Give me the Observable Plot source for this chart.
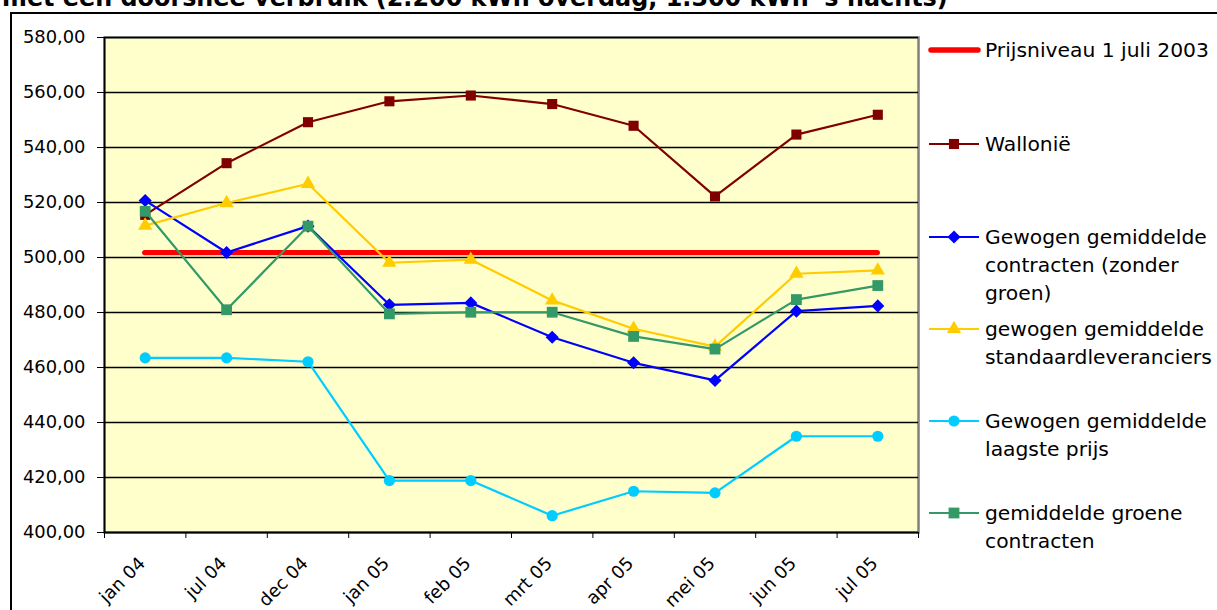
<!DOCTYPE html>
<html>
<head>
<meta charset="utf-8">
<script src="https://cdn.jsdelivr.net/npm/d3@7"></script>
<script src="https://cdn.jsdelivr.net/npm/@observablehq/plot@0.6"></script>
<style>
html, body { margin: 0; padding: 0; background: #fff; overflow: hidden; }
#page { position: relative; width: 1217px; height: 610px; overflow: hidden; font-family: "DejaVu Sans", sans-serif; color: #000; }
#title { position: absolute; left: 2px; top: -11px; font-weight: bold; white-space: nowrap; font-size: 22px; line-height: 22px; }
#frame { position: absolute; left: 10px; top: 12px; width: 1400px; height: 800px; border: 2.5px solid #000; }
#chart { position: absolute; left: 0; top: 0; }
.entry { position: absolute; left: 928px; height: 28px; }
.entry svg { position: absolute; left: 0; top: 0; }
.entry .lbl { position: absolute; left: 57px; top: 0; font-size: 20.3px; line-height: 28px; white-space: nowrap; }
</style>
</head>
<body>
<div id="page">
  <div id="frame"></div>
  <div id="title"></div>
  <div id="chart"></div>
  <div id="legend"></div>
</div>
<script>
// ---- data ----
const titleText = "met een doorsnee verbruik (2.200 kWh overdag, 1.300 kWh 's nachts)";
const months = ["jan 04", "jul 04", "dec 04", "jan 05", "feb 05", "mrt 05", "apr 05", "mei 05", "jun 05", "jul 05"];
const yTicks = [400, 420, 440, 460, 480, 500, 520, 540, 560, 580];
const prijsniveau2003 = 501.8;
const wallonie    = [515.5, 534.3, 549.2, 556.8, 558.9, 555.8, 547.9, 522.2, 544.7, 551.9];
const zonderGroen = [520.7, 501.8, 511.4, 482.8, 483.5, 471.0, 461.7, 455.3, 480.5, 482.4];
const standaard   = [511.6, 519.8, 526.8, 498.1, 499.2, 484.4, 474.1, 467.6, 494.1, 495.3];
const laagste     = [463.5, 463.5, 462.1, 418.9, 418.9, 406.1, 415.0, 414.4, 435.0, 435.0];
const groen       = [516.8, 481.0, 511.4, 479.5, 480.1, 480.1, 471.3, 466.7, 484.7, 489.8];

const prijsLabel = ["Prijsniveau 1 juli 2003"];
const seriesLabels = [
  ["Wallonië"],
  ["Gewogen gemiddelde", "contracten (zonder", "groen)"],
  ["gewogen gemiddelde", "standaardleveranciers"],
  ["Gewogen gemiddelde", "laagste prijs"],
  ["gemiddelde groene", "contracten"]
];
const colors  = ["#800000", "#0000FF", "#FFCC00", "#00CCFF", "#339966"];
const symbols = ["square", "diamond2", "triangle", "circle", "square"];
const radii   = [5.7, 5.9, 5.3, 5.6, 6.1];
const prijsColor = "#FF0000";
const legendCenters = [50, 144, 236.5, 329, 420.5, 512.5];

// ---- build ----
const seriesValues = [wallonie, zonderGroen, standaard, laagste, groen];
const series = seriesValues.map((values, k) => ({
  name: seriesLabels[k].join(" "), values, color: colors[k], symbol: symbols[k], r: radii[k]
}));
const rows = series.flatMap(s => s.values.map((v, i) => ({serie: s.name, i, value: v})));
const xDomain = [-0.5, months.length - 0.5];
const boundaries = months.map((m, i) => i - 0.5).concat([months.length - 0.5]);
const fmt = d => d.toFixed(2).replace(".", ",");

const marks = [
  Plot.frame({fill: "#FFFFCC", stroke: "#808080", strokeWidth: 2.5}),
  Plot.gridY(yTicks, {stroke: "#000", strokeOpacity: 1, strokeWidth: 1.3}),
  Plot.ruleX([xDomain[0]], {stroke: "#000", strokeWidth: 1.6}),
  Plot.ruleY([yTicks[0]], {stroke: "#000", strokeWidth: 1.6}),
  Plot.axisY(yTicks, {tickSize: 7, tickPadding: 12, tickFormat: fmt, label: null, fontSize: 17.9, stroke: "#000"}),
  Plot.axisX(boundaries, {tickSize: 6, tickFormat: () => "", label: null, stroke: "#000"}),
  Plot.text(months, {x: (d, i) => i, text: d => d, frameAnchor: "bottom", dy: 32, dx: 1, rotate: -45,
    textAnchor: "end", lineAnchor: "bottom", fontSize: 17.9, fill: "#000"}),
  Plot.ruleY([prijsniveau2003], {x1: 0, x2: months.length - 1, stroke: prijsColor, strokeWidth: 5.3, strokeLinecap: "round"})
];
for (const s of series) {
  const data = rows.filter(d => d.serie === s.name);
  marks.push(Plot.line(data, {x: "i", y: "value", stroke: s.color, strokeWidth: 2.2}));
  marks.push(Plot.dot(data, {x: "i", y: "value", symbol: s.symbol, r: s.r, fill: s.color, stroke: "none"}));
}

const chart = Plot.plot({
  width: 925, height: 610,
  marginLeft: 104, marginRight: 7, marginTop: 37, marginBottom: 78,
  x: {type: "linear", domain: xDomain},
  y: {domain: [yTicks[0], yTicks[yTicks.length - 1]]},
  style: {fontFamily: "DejaVu Sans", fontSize: "17.9px", color: "#000", background: "transparent"},
  marks
});
document.getElementById("chart").appendChild(chart);

// ---- title (fit to measured width of the original) ----
const titleEl = document.getElementById("title");
titleEl.textContent = titleText;
const ctx = document.createElement("canvas").getContext("2d");
ctx.font = "bold 22px 'DejaVu Sans'";
const fs = 22 * 946 / ctx.measureText(titleText).width;
titleEl.style.fontSize = fs + "px";
titleEl.style.lineHeight = fs + "px";
titleEl.style.top = (7.5 - 0.846 * fs) + "px";

// ---- legend ----
const legend = document.getElementById("legend");
const symMap = {square: d3.symbolSquare, diamond2: d3.symbolDiamond2, triangle: d3.symbolTriangle, circle: d3.symbolCircle};
function addEntry(center, lines, color, symbol, r, thick) {
  const div = document.createElement("div");
  div.className = "entry";
  div.style.top = (center - 14) + "px";
  let svg = `<svg width="56" height="28">`;
  if (thick) {
    svg += `<line x1="3" x2="50" y1="14" y2="14" stroke="${color}" stroke-width="5.5" stroke-linecap="round"/>`;
  } else {
    svg += `<line x1="1" x2="51" y1="14" y2="14" stroke="${color}" stroke-width="2"/>`;
    svg += `<path transform="translate(26,14)" d="${d3.symbol(symMap[symbol], Math.PI * r * r)()}" fill="${color}"/>`;
  }
  svg += `</svg>`;
  div.innerHTML = svg + `<div class="lbl">${lines.join("<br>")}</div>`;
  legend.appendChild(div);
}
addEntry(legendCenters[0], prijsLabel, prijsColor, null, 0, true);
series.forEach((s, k) => addEntry(legendCenters[k + 1], seriesLabels[k], s.color, s.symbol, s.r, false));
</script>
</body>
</html>
